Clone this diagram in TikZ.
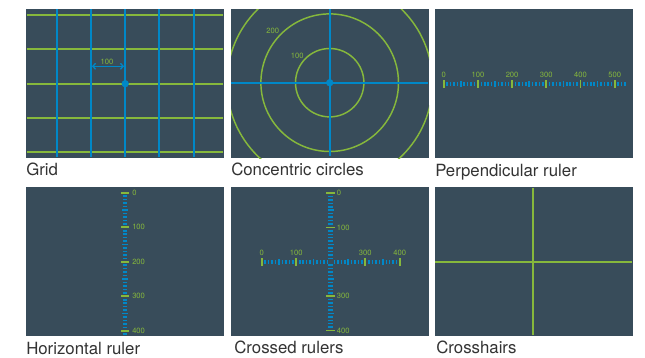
\documentclass[tikz,border=0pt]{standalone}
\usepackage{fontspec}
\setmainfont{TeX Gyre Heros}
\usetikzlibrary{arrows.meta}
\definecolor{panelbg}{HTML}{384C5A}
\definecolor{lgreen}{HTML}{86B83C}
\definecolor{lblue}{HTML}{0088C8}
\definecolor{captxt}{HTML}{333333}
\tikzset{
  panelbox/.style={fill=panelbg,draw=none},
  gline/.style={draw=lgreen,line width=1.3pt},
  bline/.style={draw=lblue,line width=1.3pt},
  gtick/.style={draw=lgreen,line width=1.3pt},
  btick/.style={draw=lblue,line width=1.15pt},
  glabel/.style={text=lgreen,font=\fontsize{5.7}{6}\selectfont,inner sep=0pt},
  caption/.style={text=captxt,font=\fontsize{12.6}{14}\selectfont,inner sep=0pt,anchor=base west},
  hub/.style={circle,fill=lblue,draw=lblue,line width=0.4pt,inner sep=0pt,minimum size=5pt}
}
\begin{document}
\begin{tikzpicture}[x=0.75pt,y=-0.75pt]
\useasboundingbox (0,0) rectangle (645,357);
% panels
\fill[white] (0,0) rectangle (645,357);
\foreach \px/\py in {26/9,231/9,435/9,26/187,231/187,435/187}
  \path[panelbox] (\px,\py) rectangle ++(198,149);
% --- Grid
\foreach \yy in {15,49.3,83.7,118,152}
  \draw[gline] (26.5,\yy) -- (223,\yy);
\foreach \xx in {56.7,91,125,159.3,193.8}
  \draw[bline] (\xx,9) -- (\xx,157);
\draw[draw=lblue,line width=1pt,{Straight Barb[length=2pt,width=4.5pt]}-{Straight Barb[length=2pt,width=4.5pt]}] (92,66.3) -- (124,66.3);
\node[glabel] (gridlabel) at (107,62) {100};
\node[hub] (gridhub) at (125.2,83.7) {};
% --- Concentric
\begin{scope}
  \clip (231,9) rectangle ++(198,149);
  \foreach \rr in {34.2,68.8,102.8}
    \draw[gline,line width=1.1pt] (329.7,82.7) circle [x radius=\rr, y radius=-\rr];
\end{scope}
\draw[bline,line width=1.4pt] (231,82.7) -- (428,82.7);
\draw[bline,line width=1.4pt] (329.7,9) -- (329.7,156);
\node[hub] (conchub) at (329.7,82.7) {};
\node[glabel] (c200) at (272.7,31) {200};
\node[glabel] (c100) at (297.3,56) {100};
% --- Perpendicular ruler
\foreach \i in {0,...,53}{
  \pgfmathsetmacro\xx{443.7+\i*3.42}
  \pgfmathtruncatemacro\rem{mod(\i,5)}
  \ifnum\rem=0
    \draw[btick] (\xx,81) -- (\xx,87);
  \else
    \draw[btick] (\xx,81.8) -- (\xx,86);
  \fi
}
\foreach \i/\lab in {0/0,1/100,2/200,3/300,4/400,5/500}{
  \pgfmathsetmacro\xx{443.7+\i*34.2}
  \draw[gtick] (\xx,80) -- (\xx,87.7);
  \node[glabel] (p\lab) at (\xx,74.7) {\lab};
}
% --- Horizontal ruler
\foreach \i in {0,...,41}{
  \pgfmathsetmacro\yy{192.8+\i*3.45}
  \pgfmathtruncatemacro\rem{mod(\i,5)}
  \ifnum\rem=0
    \draw[btick] (122,\yy) -- (128,\yy);
  \else
    \draw[btick] (122.7,\yy) -- (127.3,\yy);
  \fi
}
\foreach \i/\lab in {0/0,1/100,2/200,3/300,4/400}{
  \pgfmathsetmacro\yy{192.8+\i*34.5}
  \draw[gtick] (121,\yy) -- (129.3,\yy);
  \node[glabel,anchor=west] (h\lab) at (132,\yy) {\lab};
}
% --- Crossed rulers
\foreach \i in {0,...,40}{
  \pgfmathsetmacro\yy{193+\i*3.44}
  \pgfmathtruncatemacro\rem{mod(\i,5)}
  \ifnum\i=20\relax\else
  \ifnum\rem=0
    \draw[btick] (327.7,\yy) -- (333.5,\yy);
  \else
    \draw[btick] (328.3,\yy) -- (332.9,\yy);
  \fi\fi
}
\foreach \i/\lab in {0/0,1/100,3/300,4/400}{
  \pgfmathsetmacro\yy{193+\i*34.4}
  \draw[gtick] (326.3,\yy) -- (335,\yy);
  \node[glabel,anchor=west] (cv\lab) at (336.7,\yy) {\lab};
}
\foreach \i in {0,...,40}{
  \pgfmathsetmacro\xx{261.7+\i*3.46}
  \pgfmathtruncatemacro\rem{mod(\i,5)}
  \ifnum\i=20\relax\else
  \ifnum\rem=0
    \draw[btick] (\xx,259) -- (\xx,265);
  \else
    \draw[btick] (\xx,259.8) -- (\xx,264.2);
  \fi\fi
}
\foreach \i/\lab in {0/0,1/100,3/300,4/400}{
  \pgfmathsetmacro\xx{261.7+\i*34.5}
  \draw[gtick] (\xx,258) -- (\xx,266.3);
  \node[glabel] (ch\lab) at (\xx,253.3) {\lab};
}
% --- Crosshairs
\draw[gline] (435,261.7) -- (632,261.7);
\draw[gline] (533.3,188) -- (533.3,335);
% --- captions
\node[caption] (cap1) at (26,175) {Grid};
\node[caption] (cap2) at (231,175) {Concentric circles};
\node[caption] (cap3) at (435,176.5) {Perpendicular ruler};
\node[caption] (cap4) at (26,354) {Horizontal ruler};
\node[caption] (cap5) at (234,353) {Crossed rulers};
\node[caption] (cap6) at (436,353) {Crosshairs};
\end{tikzpicture}
\end{document}
